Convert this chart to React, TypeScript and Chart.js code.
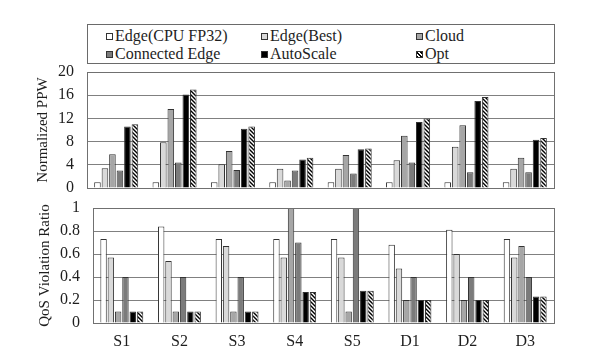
import React, { useEffect, useRef } from 'react';
import { Chart, registerables } from 'chart.js';

Chart.register(...registerables);

const categories = ['S1', 'S2', 'S3', 'S4', 'S5', 'D1', 'D2', 'D3'];
const seriesNames = ['Edge(CPU FP32)', 'Edge(Best)', 'Cloud', 'Connected Edge', 'AutoScale', 'Opt'];

const ppwEdgeCpu = [1, 1, 1, 1, 1, 1, 1, 1];
const ppwEdgeBest = [3.4, 7.9, 4.1, 3.3, 3.3, 4.8, 7.1, 3.3];
const ppwCloud = [5.8, 13.6, 6.4, 1.3, 5.7, 9.0, 10.8, 5.2];
const ppwConnected = [3.0, 4.4, 3.1, 3.0, 2.5, 4.4, 2.7, 2.7];
const ppwAutoScale = [10.6, 16.1, 10.2, 4.9, 6.7, 11.4, 15.0, 8.3];
const ppwOpt = [11.0, 17.0, 10.6, 5.2, 6.8, 12.0, 15.7, 8.6];

const qosEdgeCpu = [0.73, 0.84, 0.73, 0.73, 0.73, 0.68, 0.81, 0.73];
const qosEdgeBest = [0.57, 0.54, 0.67, 0.57, 0.57, 0.475, 0.6, 0.57];
const qosCloud = [0.1, 0.1, 0.1, 1.0, 0.1, 0.2, 0.2, 0.67];
const qosConnected = [0.4, 0.4, 0.4, 0.7, 1.0, 0.4, 0.4, 0.4];
const qosAutoScale = [0.1, 0.1, 0.1, 0.27, 0.28, 0.2, 0.2, 0.23];
const qosOpt = [0.1, 0.1, 0.1, 0.27, 0.28, 0.2, 0.2, 0.23];

const ppwAxis = { min: 0, max: 20, step: 4, title: 'Normalized PPW' };
const qosAxis = { min: 0, max: 1, step: 0.2, title: 'QoS Violation Ratio' };

const ppwSeries = [ppwEdgeCpu, ppwEdgeBest, ppwCloud, ppwConnected, ppwAutoScale, ppwOpt];
const qosSeries = [qosEdgeCpu, qosEdgeBest, qosCloud, qosConnected, qosAutoScale, qosOpt];

const FILLS = ['#ffffff', '#d9d9d9', '#a6a6a6', '#7b7b7b', '#000000', 'HATCH'];
const FONT = '"Liberation Serif", "Times New Roman", serif';
const TEXT = '#1e1e1e';
const GRID = '#808080';

function makeHatch(): CanvasPattern | string {
  const c = document.createElement('canvas');
  const s = 4;
  c.width = s;
  c.height = s;
  const ctx = c.getContext('2d');
  if (!ctx) return '#888';
  ctx.fillStyle = '#ffffff';
  ctx.fillRect(0, 0, s, s);
  ctx.strokeStyle = '#000000';
  ctx.lineWidth = 1.4;
  ctx.beginPath();
  ctx.moveTo(0, 0);
  ctx.lineTo(s, s);
  ctx.moveTo(-1, s - 1);
  ctx.lineTo(1, s + 1);
  ctx.moveTo(s - 1, -1);
  ctx.lineTo(s + 1, 1);
  ctx.stroke();
  return ctx.createPattern(c, 'repeat') || '#888';
}

const boxPlugin = {
  id: 'plotBox',
  afterDraw(chart: any) {
    const { ctx, chartArea: a } = chart;
    ctx.save();
    ctx.strokeStyle = '#707070';
    ctx.lineWidth = 1;
    const l = Math.round(a.left) + 0.5;
    const t = Math.round(a.top) + 0.5;
    const r = Math.round(a.right) + 0.5;
    const b = Math.round(a.bottom) + 0.5;
    ctx.strokeRect(l, t, r - l, b - t);
    ctx.restore();
  },
};

type PanelProps = {
  series: number[][];
  axis: { min: number; max: number; step: number; title: string };
  top: number;
  height: number;
  padLeft: number;
  yWidth: number;
  padTop: number;
  xHeight: number;
  showX: boolean;
  catPct: number;
};

function Panel(p: PanelProps) {
  const ref = useRef<HTMLCanvasElement>(null);
  useEffect(() => {
    if (!ref.current) return;
    const hatch = makeHatch();
    const chart = new Chart(ref.current, {
      type: 'bar',
      data: {
        labels: categories,
        datasets: p.series.map((vals, i) => ({
          label: seriesNames[i],
          data: vals,
          backgroundColor: FILLS[i] === 'HATCH' ? hatch : FILLS[i],
          borderColor: '#333333',
          borderWidth: 1,
          barPercentage: 0.88,
          categoryPercentage: p.catPct,
        })),
      },
      options: {
        responsive: false,
        animation: false,
        layout: { padding: { left: p.padLeft, right: 46, top: p.padTop, bottom: 0 } },
        plugins: { legend: { display: false }, tooltip: { enabled: false } },
        scales: {
          x: {
            grid: { display: false, drawTicks: false },
            border: { display: false },
            ticks: {
              display: p.showX,
              padding: 9,
              color: TEXT,
              font: { family: FONT, size: 16 },
            },
            afterFit: (s: any) => {
              s.height = p.xHeight;
              s.paddingLeft = 0;
              s.paddingRight = 0;
            },
          },
          y: {
            min: p.axis.min,
            max: p.axis.max,
            grid: { color: GRID, lineWidth: 1, drawTicks: false },
            border: { display: false },
            ticks: {
              stepSize: p.axis.step,
              autoSkip: false,
              padding: 13,
              color: TEXT,
              font: { family: FONT, size: 16 },
              callback: (v: any) => String(Math.round(Number(v) * 10) / 10),
            },
            title: {
              display: true,
              text: p.axis.title,
              color: TEXT,
              font: { family: FONT, size: 15 },
              padding: { top: 4, bottom: 4 },
            },
            afterFit: (s: any) => {
              s.width = p.yWidth;
              s.paddingTop = 0;
              s.paddingBottom = 0;
            },
          },
        },
      },
      plugins: [boxPlugin],
    });
    return () => chart.destroy();
  }, []);
  return (
    <canvas
      ref={ref}
      width={600}
      height={p.height}
      style={{ position: 'absolute', left: 0, top: p.top, width: 600, height: p.height }}
    />
  );
}

const legendCols = [18, 173, 328];
const legendRows = [11, 29];

function Legend() {
  return (
    <div
      style={{
        position: 'absolute',
        left: 87,
        top: 24,
        width: 468,
        height: 40,
        boxSizing: 'border-box',
        border: '1px solid #6a6a6a',
      }}
    >
      {seriesNames.map((name, i) => {
        const col = i % 3;
        const row = Math.floor(i / 3);
        const fill = FILLS[i];
        const bg =
          fill === 'HATCH'
            ? 'repeating-linear-gradient(45deg, #000 0px, #000 1px, #fff 1px, #fff 2.8px)'
            : fill;
        return (
          <div
            key={name}
            style={{
              position: 'absolute',
              left: legendCols[col],
              top: legendRows[row] - 10,
              height: 20,
              display: 'flex',
              alignItems: 'center',
              whiteSpace: 'nowrap',
              fontFamily: FONT,
              fontSize: 16,
              color: TEXT,
            }}
          >
            <span
              style={{
                display: 'inline-block',
                width: 7,
                height: 7,
                boxSizing: 'border-box',
                border: '1px solid #333',
                background: bg,
                marginRight: 2,
              }}
            />
            <span>{name}</span>
          </div>
        );
      })}
    </div>
  );
}

export default function App() {
  return (
    <div
      style={{
        position: 'fixed',
        left: 0,
        top: 0,
        width: 600,
        height: 358,
        background: '#ffffff',
        overflow: 'hidden',
      }}
    >
      <Legend />
      <Panel
        series={ppwSeries}
        axis={ppwAxis}
        top={64}
        height={136}
        padLeft={30}
        yWidth={57}
        padTop={8}
        xHeight={12}
        showX={false}
        catPct={0.77}
      />
      <Panel
        series={qosSeries}
        axis={qosAxis}
        top={195}
        height={163}
        padLeft={32}
        yWidth={61}
        padTop={13}
        xHeight={35}
        showX={true}
        catPct={0.76}
      />
    </div>
  );
}
